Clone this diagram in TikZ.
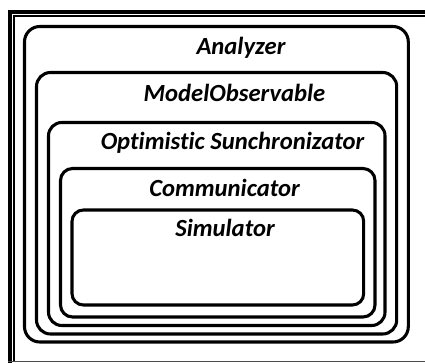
\documentclass[tikz,border=0pt]{standalone}
\usepackage{fontspec}
\setmainfont{Carlito}[RawFeature={-liga;-dlig;-clig}]
\begin{document}
\begin{tikzpicture}[x=0.75pt,y=-0.75pt,
  box/.style={draw=black,line width=2.3pt,rounded corners=#1},
  box/.default=9pt,
  lbl/.style={anchor=base,inner sep=0pt,font=\fontsize{18.5}{20}\selectfont\bfseries\itshape}]
\useasboundingbox (0,0) rectangle (425,363);
% outer frame
\draw[line width=3pt] (10,363) -- (10,12) -- (425,12);
\draw[line width=0.8pt] (14,362) -- (14,16) -- (425,16);
\draw[line width=0.8pt,black!70] (8,361.6) -- (425,361.6);
% nested boxes
\draw[box=11.5pt] (24.5,26.5) rectangle (408.3,342);
\draw[box=10.5pt] (36.5,72.5) rectangle (396.7,334);
\draw[box=10pt] (48.5,122.5) rectangle (385,325.5);
\draw[box=9pt] (60.5,168.5) rectangle (375,317);
\draw[box=8.5pt] (72,210) rectangle (363.7,305);
% labels
\node[lbl] (analyzer) at (241,55) {Analyzer};
\node[lbl] (model) at (234.5,101.7) {ModelObservable};
\node[lbl] (sync) at (232.5,150) {Optimistic Sunchronizator};
\node[lbl] (comm) at (224.5,197) {Communicator};
\node[lbl] (sim) at (225,237) {Simulator};
\end{tikzpicture}
\end{document}
